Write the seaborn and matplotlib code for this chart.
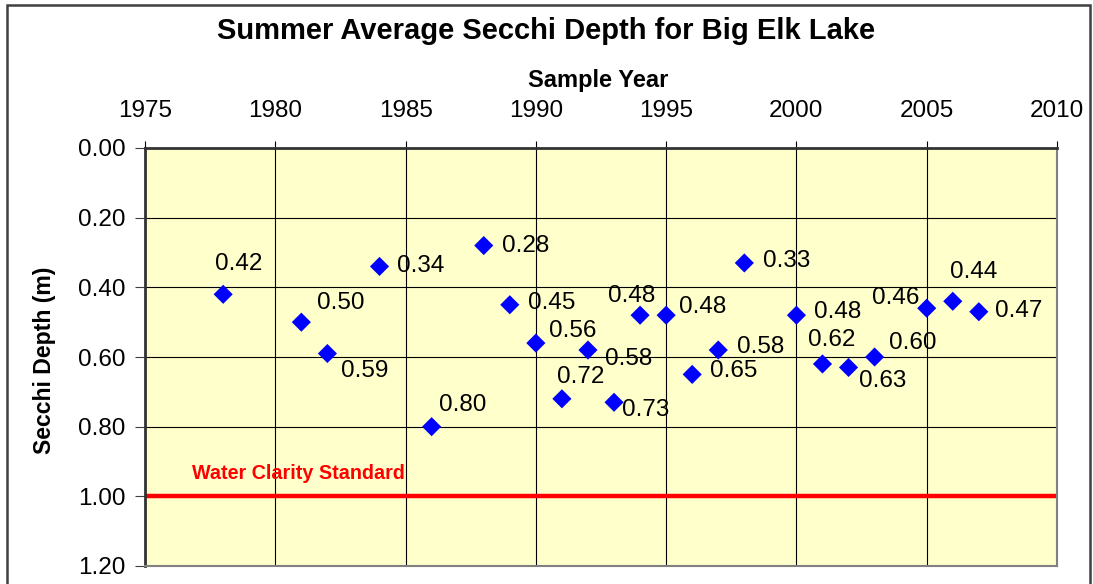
import numpy as np
import pandas as pd
import seaborn as sns
import matplotlib.pyplot as plt
from matplotlib.patches import Rectangle

# Summer average Secchi depth readings
years = [1978, 1981, 1982, 1984, 1986, 1988, 1989, 1990, 1991, 1992, 1993, 1994,
         1995, 1996, 1997, 1998, 2000, 2001, 2002, 2003, 2005, 2006, 2007]
depths = [0.42, 0.50, 0.59, 0.34, 0.80, 0.28, 0.45, 0.56, 0.72, 0.58, 0.73, 0.48,
          0.48, 0.65, 0.58, 0.33, 0.48, 0.62, 0.63, 0.60, 0.46, 0.44, 0.47]
standard = 1.00

x_ticks = [1975, 1980, 1985, 1990, 1995, 2000, 2005, 2010]
y_ticks = [0.00, 0.20, 0.40, 0.60, 0.80, 1.00, 1.20]

# label offsets (pixels, right / up) from each marker
label_dx = [16, 39, 37, 41, 31, 42, 42, 37, 19, 41, 32, -8, 36, 41, 42, 42, 41, 9, 34, 38, -31, 21, 40]
label_dy = [30, 19, -17, 0, 22, 0, 2, 12, 22, -9, -8, 19, 8, 3, 3, 2, 3, 24, -14, 14, 10, 29, 1]

df = pd.DataFrame({"year": years, "depth": depths})

plt.rcParams['font.family'] = ['Liberation Sans', 'DejaVu Sans']

fig = plt.figure(figsize=(10.93, 5.84), dpi=100)
ax = fig.add_axes([145 / 1093, 1 - 566 / 584, (1057 - 145) / 1093, (566 - 148) / 584])
ax.set_facecolor('#FFFFCC')

ax.set_axisbelow(True)
ax.grid(True, color='black', linewidth=0.8)

ax.axhline(standard, color='#FF0000', linewidth=3.2, zorder=2)
ax.text(1980.9, 0.934, 'Water Clarity Standard', color='#FF0000', fontsize=14.2,
        fontweight='bold', ha='center', va='center')

sns.scatterplot(data=df, x='year', y='depth', marker='D', s=95, color='#0000FF',
                edgecolor='none', ax=ax, zorder=3)

for yr, d, dx, dy in zip(years, depths, label_dx, label_dy):
    ax.annotate(f'{d:.2f}', (yr, d), xytext=(dx, dy), textcoords='offset pixels',
                ha='center', va='center', fontsize=17.5, color='black', zorder=4)

ax.set_xlim(1975, 2010)
ax.set_ylim(1.20, 0.00)
ax.set_xticks(x_ticks)
ax.set_yticks(y_ticks)
ax.set_yticklabels([f'{v:.2f}' for v in y_ticks])
ax.xaxis.tick_top()
ax.tick_params(axis='x', top=True, bottom=False, length=5, labelsize=17.5, pad=14, color='black')
ax.tick_params(axis='y', length=7, labelsize=17.5, pad=7, color='#404040')

ax.set_xlabel('')
ax.set_ylabel('')
fig.text(598 / 1093, 1 - 80 / 584, 'Sample Year', fontsize=17, fontweight='bold',
         ha='center', va='center')
fig.text(45 / 1093, 1 - 360 / 584, 'Secchi Depth (m)', fontsize=16.6, fontweight='bold',
         ha='center', va='center', rotation=90)

for side in ['top', 'left']:
    ax.spines[side].set_color('#333333')
    ax.spines[side].set_linewidth(2)
for side in ['bottom', 'right']:
    ax.spines[side].set_color('#808080')
    ax.spines[side].set_linewidth(1.5)

fig.text(0.5, 1 - 31 / 584, 'Summer Average Secchi Depth for Big Elk Lake',
         fontsize=21, fontweight='bold', ha='center', va='center')

# chart border
fig.patches.append(Rectangle((7 / 1093, -0.05), (1090 - 7) / 1093, 1.05 - 5 / 584,
                             transform=fig.transFigure, fill=False,
                             edgecolor='#404040', linewidth=1.8))

fig.savefig('out.png', dpi=100)
